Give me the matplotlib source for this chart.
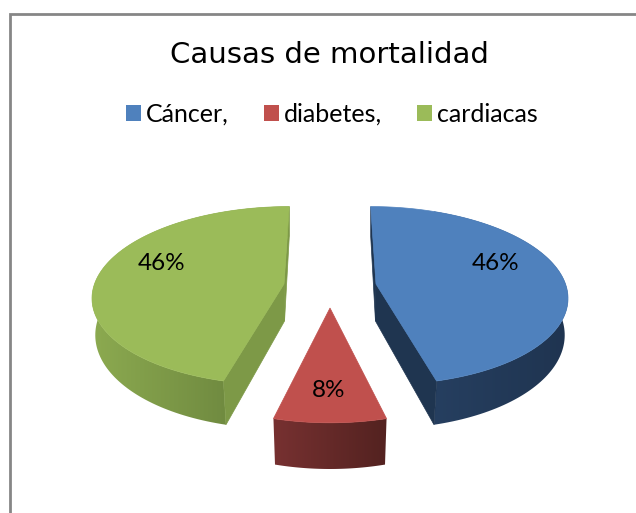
import numpy as np
import matplotlib
matplotlib.use("Agg")
import matplotlib.pyplot as plt
from matplotlib.colors import LinearSegmentedColormap
from matplotlib.patches import Patch, Polygon

title = "Causas de mortalidad"
causes = ["Cáncer,", "diabetes,", "cardiacas"]
shares = [46, 8, 46]

top_colors = ["#4F81BD", "#C0504D", "#9BBB59"]
side_colors = ["#1F3550", "#6A2C2A", "#7D9947"]
wall_left = ["#263F60", "#773131", "#8CAA50"]
wall_right = ["#1F3450", "#532220", "#637C39"]

# exploded slice centres, pie units
offset_x = [46, 0, -46]
offset_v = [0.0, 0.265, 0.0]
stretch_v = [1.0, 1.05, 1.0]
label_pos = [(496, 263.5), (329, 390.5), (162, 263.5)]

# perspective of the 3d pie, in pixels
CX, CY = 330, 284
RX, RY = 189.5, 87.5
K = 0.13


def project(u, v, x0=0.0, lower=False):
    w = 1 / (1 - K * v)
    px = (x0 + RX * u) * w
    py = CY + RY * v * w
    if lower:
        px = px * (0.988 - 0.012 * v)
        py = py + 37 + 7 * v
    return CX + px, py


def slice_points(a0, a1, i, lower=False):
    t = np.radians(np.linspace(a0, a1, 120))
    u = np.sin(t)
    v = offset_v[i] - stretch_v[i] * np.cos(t)
    return project(u, v, offset_x[i], lower)


fig = plt.figure(figsize=(6.36, 5.13), dpi=100)
ax = fig.add_axes([0, 0, 1, 1])
ax.set_xlim(0, 636)
ax.set_ylim(513, 0)
ax.axis("off")

# chart frame, runs off the right and bottom of the image
ax.plot([9.5, 9.5, 640], [520, 13.5, 13.5], color="#868686", lw=2.0, solid_joinstyle="miter")

ax.text(329.5, 55, title, ha="center", va="center", fontsize=21, family="DejaVu Sans", color="black")

edges = np.cumsum([0] + shares) / sum(shares) * 360
for i in [2, 0, 1]:
    a0, a1 = edges[i], edges[i + 1]
    xt, yt = slice_points(a0, a1, i)
    xb, yb = slice_points(a0, a1, i, lower=True)
    apex_t = project(0, offset_v[i], offset_x[i])
    apex_b = project(0, offset_v[i], offset_x[i], lower=True)

    # curved outer wall with the shading running left to right
    wall = Polygon(np.column_stack([np.r_[xt, xb[::-1]], np.r_[yt, yb[::-1]]]), closed=True,
                   fc="none", ec="none", zorder=2)
    ax.add_patch(wall)
    cmap = LinearSegmentedColormap.from_list("wall", [wall_left[i], wall_right[i]])
    left, right = min(xt.min(), xb.min()), max(xt.max(), xb.max())
    if i == 0:
        left = xt[-1] - 3
    im = ax.imshow(np.linspace(0, 1, 256)[None, :], cmap=cmap, aspect="auto", zorder=2,
                   extent=[left, right, yb.max() + 2, yt.min() - 2], interpolation="bilinear")
    im.set_clip_path(wall)

    # flat cut faces
    if i != 1:
        for k in [0, -1]:
            face = [apex_t, (xt[k], yt[k]), (xb[k], yb[k]), apex_b]
            ax.add_patch(Polygon(face, closed=True, fc=side_colors[i], ec=side_colors[i], lw=0.5, zorder=3))

    # top of the slice
    top = np.column_stack([np.r_[apex_t[0], xt], np.r_[apex_t[1], yt]])
    ax.add_patch(Polygon(top, closed=True, fc=top_colors[i], ec=top_colors[i], lw=0.5, zorder=4))

    ax.text(label_pos[i][0], label_pos[i][1], "%d%%" % round(100 * shares[i] / sum(shares)),
            ha="center", va="center", fontsize=17.5, family="Lato", color="black", zorder=5)

ax.set_xlim(0, 636)
ax.set_ylim(513, 0)

handles = [Patch(fc=c, ec="none", label=n) for c, n in zip(top_colors, causes)]
ax.legend(handles=handles, ncols=3, loc="center", bbox_to_anchor=(332 / 636, 1 - 114.5 / 513),
          frameon=False, prop={"family": "Lato", "size": 18}, handlelength=0.6, handleheight=0.6,
          handletextpad=0.22, columnspacing=1.38, labelcolor="black", borderpad=0)

fig.savefig("out.png", dpi=100)
